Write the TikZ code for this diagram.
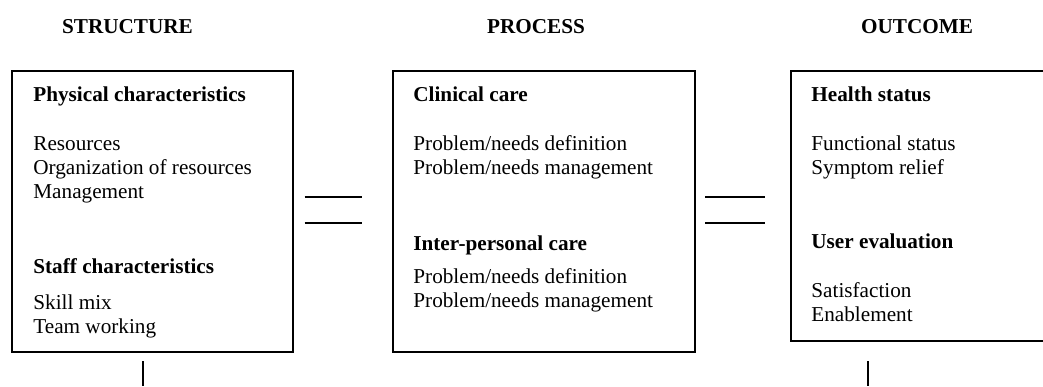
\documentclass[tikz,border=0pt]{standalone}
\usepackage{fontspec}
\setmainfont{Liberation Serif}
\begin{document}
\begin{tikzpicture}[x=0.5pt,y=-0.5pt,
  frame/.style={draw, line width=1pt, inner sep=0pt, outer sep=0pt},
  head/.style={anchor=base, inner sep=0pt, font=\fontsize{10.6pt}{12pt}\selectfont\bfseries},
  title/.style={anchor=base west, inner sep=0pt, font=\fontsize{10.6pt}{12pt}\selectfont\bfseries},
  item/.style={anchor=base west, inner sep=0pt, font=\fontsize{10.6pt}{12pt}\selectfont},
  link/.style={line width=0.9pt}]
  \clip (0,0) rectangle (1043,386);

  % column headings
  \node[head] (hS) at (127.5,33) {STRUCTURE};
  \node[head] (hP) at (536,33) {PROCESS};
  \node[head] (hO) at (917,33) {OUTCOME};

  % the three boxes
  \node[frame, minimum width=140.5pt, minimum height=140.5pt] (bS) at (152.5,211.5) {};
  \node[frame, minimum width=151pt, minimum height=140.5pt] (bP) at (544,211.5) {};
  \node[frame, minimum width=154.5pt, minimum height=135pt] (bO) at (945.5,206) {};

  % structure
  \node[title] (s1) at (33,101) {Physical characteristics};
  \node[item] (s2) at (33,150) {Resources};
  \node[item] (s3) at (33,174.5) {Organization of resources};
  \node[item] (s4) at (33,198.5) {Management};
  \node[title] (s5) at (33,273.5) {Staff characteristics};
  \node[item] (s6) at (33,309) {Skill mix};
  \node[item] (s7) at (33,333) {Team working};

  % process
  \node[title] (p1) at (413,101) {Clinical care};
  \node[item] (p2) at (413,150) {Problem/needs definition};
  \node[item] (p3) at (413,174) {Problem/needs management};
  \node[title] (p4) at (413,250) {Inter-personal care};
  \node[item] (p5) at (413,283.5) {Problem/needs definition};
  \node[item] (p6) at (413,307.5) {Problem/needs management};

  % outcome
  \node[title] (o1) at (811,101) {Health status};
  \node[item] (o2) at (811,150) {Functional status};
  \node[item] (o3) at (811,174) {Symptom relief};
  \node[title] (o4) at (811,248.5) {User evaluation};
  \node[item] (o5) at (811,297.5) {Satisfaction};
  \node[item] (o6) at (811,321) {Enablement};

  % double bars between the boxes
  \coordinate (a1) at (304.5,197);
  \coordinate (a2) at (361.5,197);
  \coordinate (a3) at (304.5,223);
  \coordinate (a4) at (361.5,223);
  \coordinate (c1) at (705,197);
  \coordinate (c2) at (765,197);
  \coordinate (c3) at (705,223);
  \coordinate (c4) at (765,223);
  \draw[link] (a1) -- (a2);
  \draw[link] (a3) -- (a4);
  \draw[link] (c1) -- (c2);
  \draw[link] (c3) -- (c4);

  % stubs below the outer boxes
  \coordinate (d1) at (143,361);
  \coordinate (d2) at (143,386);
  \coordinate (e1) at (868,361);
  \coordinate (e2) at (868,386);
  \draw[link] (d1) -- (d2);
  \draw[link] (e1) -- (e2);
\end{tikzpicture}
\end{document}
